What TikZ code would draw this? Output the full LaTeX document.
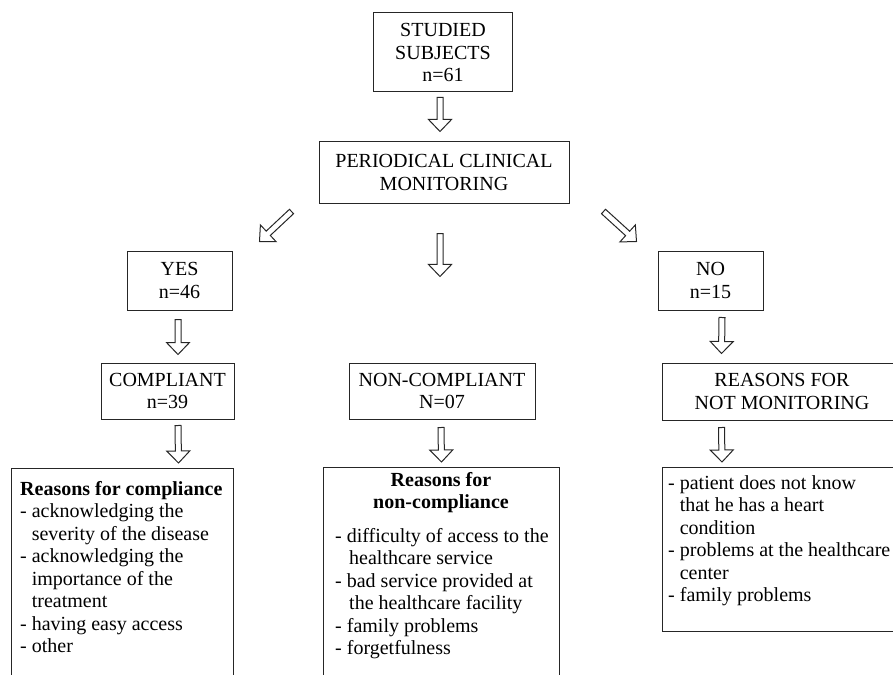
\documentclass[tikz,border=0pt]{standalone}
\usepackage{fontspec}
\setmainfont{Liberation Serif}
\usetikzlibrary{calc}

\begin{document}
\begin{tikzpicture}[x=1bp, y=-1bp,
    every node/.style={font=\fontsize{20bp}{22.5bp}\selectfont, text=black},
    box/.style={draw=black!85, line width=1bp, inner sep=0pt, align=center},
    list/.style={inner sep=0pt, align=left, anchor=north west},
    fat/.style={draw=black!85, line width=1bp, to path={
      let \p1=(\tikztostart), \p2=(\tikztotarget), \p3=($(\p2)!12bp!(\p1)$) in
      ($(\p1)!3bp!90:(\p2)$) -- ($(\p3)!3bp!-90:(\p1)$) -- ($(\p3)!11.5bp!-90:(\p1)$)
      -- (\p2) -- ($(\p3)!11.5bp!90:(\p1)$) -- ($(\p3)!3bp!90:(\p1)$)
      -- ($(\p1)!3bp!-90:(\p2)$) -- cycle}}]
  \useasboundingbox (0,0) rectangle (893,675);
  \clip (0,0) rectangle (893,675);

  % top of the chart
  \node[box, minimum width=139bp, minimum height=79bp] (subj) at (443,52.5) {STUDIED\\SUBJECTS\\n=61};
  \node[box, minimum width=250bp, minimum height=61bp] (pcm) at (444,172.5) {PERIODICAL CLINICAL\\MONITORING};

  % yes / no and the groups below
  \node[box, minimum width=105bp, minimum height=59bp] (yes) at (179.5,280.5) {YES\\n=46};
  \node[box, minimum width=105bp, minimum height=59bp] (no) at (710.5,280.5) {NO\\n=15};
  \node[box, minimum width=133bp, minimum height=56bp] (comp) at (167.5,391) {COMPLIANT\\n=39};
  \node[box, minimum width=186bp, minimum height=56bp] (ncomp) at (442,391) {NON-COMPLIANT\\N=07};
  \node[box, minimum width=240bp, minimum height=57bp] (notmon) at (782,391.5) {REASONS FOR\\NOT MONITORING};

  % reasons (boxes run off the page)
  \node[box, anchor=north west, minimum width=222bp, minimum height=240bp] (rcomp) at (11,468) {};
  \node[box, anchor=north west, minimum width=236bp, minimum height=240bp] (rncomp) at (323,467) {};
  \node[box, anchor=north west, minimum width=240bp, minimum height=164bp] (rnotmon) at (662,467) {};

  \node[list] (rcomp-txt) at (20,481) {\textbf{Reasons for compliance}\\
    - acknowledging the\\\hspace*{0.58em}severity of the disease\\
    - acknowledging the\\\hspace*{0.58em}importance of the\\\hspace*{0.58em}treatment\\
    - having easy access\\
    - other};
  \node[inner sep=0pt, align=center, anchor=north] (rncomp-head) at (441,472) {\textbf{Reasons for}\\\textbf{non-compliance}};
  \node[list] (rncomp-txt) at (335,528) {- difficulty of access to the\\\hspace*{0.7em}healthcare service\\
    - bad service provided at\\\hspace*{0.7em}the healthcare facility\\
    - family problems\\
    - forgetfulness};
  \node[list] (rnotmon-txt) at (668,475) {- patient does not know\\\hspace*{0.58em}that he has a heart\\\hspace*{0.58em}condition\\
    - problems at the healthcare\\\hspace*{0.58em}center\\
    - family problems};

  % hollow arrows
  \draw[fat] ([shift={(-3bp,-5bp)}]subj.south) to ([shift={(-4bp,10bp)}]pcm.north);
  \draw[fat] ([shift={(-27bp,-8bp)}]pcm.south west) to ([shift={(27bp,9bp)}]yes.north east);
  \draw[fat] ([shift={(-4bp,-30bp)}]pcm.south) to ([shift={(-2bp,86bp)}]ncomp.north);
  \draw[fat] ([shift={(34bp,-8bp)}]pcm.south east) to ([shift={(-21bp,9bp)}]no.north west);
  \draw[fat] ([shift={(-1.5bp,-9bp)}]yes.south) to ([shift={(10.5bp,8bp)}]comp.north);
  \draw[fat] ([shift={(11.5bp,-7bp)}]no.south) to ([shift={(60bp,9bp)}]notmon.north west);
  \draw[fat] ([shift={(10.5bp,-6bp)}]comp.south) to ([shift={(56bp,5bp)}]rcomp.north);
  \draw[fat] ([shift={(-1bp,-8bp)}]ncomp.south) to ([shift={(0bp,5bp)}]rncomp.north);
  \draw[fat] ([shift={(60bp,-7bp)}]notmon.south west) to ([shift={(60bp,5bp)}]rnotmon.north west);
\end{tikzpicture}
\end{document}
